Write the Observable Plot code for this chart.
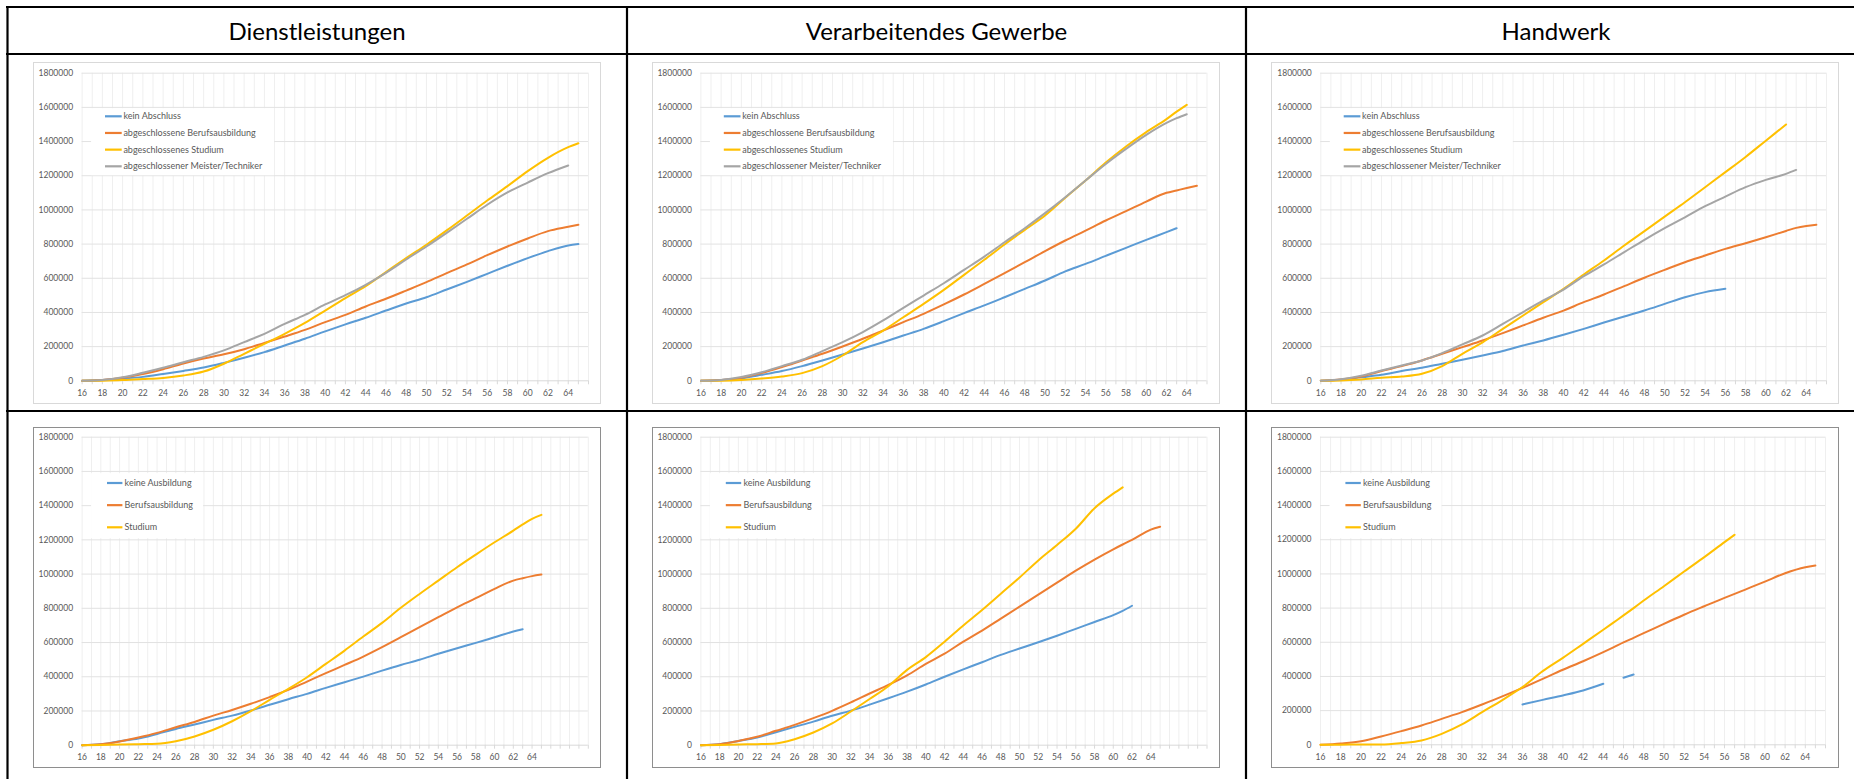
<!DOCTYPE html>
<html>
<head>
<meta charset="utf-8">
<script src="https://cdn.jsdelivr.net/npm/d3@7"></script>
<script src="https://cdn.jsdelivr.net/npm/@observablehq/plot@0.6"></script>
<style>
  html, body { margin: 0; padding: 0; background: #fff; width: 1854px; height: 779px; overflow: hidden; }
  #page { position: relative; width: 1854px; height: 779px; }
  #bg { position: absolute; left: 0; top: 0; }
  .chart { position: absolute; }
</style>
</head>
<body>
<div id="page"></div>
<script>
// ---------------- data (values in thousands) ----------------
const UNIT = 1000;
const yTicks = [0, 200000, 400000, 600000, 800000, 1000000, 1200000, 1400000, 1600000, 1800000];
const xTickLabels = [16,18,20,22,24,26,28,30,32,34,36,38,40,42,44,46,48,50,52,54,56,58,60,62,64];
const headers = ["Dienstleistungen", "Verarbeitendes Gewerbe", "Handwerk"];
const namesTop = ["kein Abschluss", "abgeschlossene Berufsausbildung", "abgeschlossenes Studium", "abgeschlossener Meister/Techniker"];
const namesBottom = ["keine Ausbildung", "Berufsausbildung", "Studium"];

// Dienstleistungen (top)
const tlAges = [16,18,20,22,24,26,28,30,32,34,36,38,40,42,44,46,48,50,52,54,56,58,60,62,64,65];
const tlKeinAbschluss   = [0,4,12,23,40,58,78,105,135,168, 207,246,289,330,369,411,452,489,534,579, 626,673,718,759,792,800];
const tlBerufsausbildung = [0,5,18,39,68,101,130,155,185,222, 259,298,343,386,435,480,528,577,630,681, 735,786,833,876,901,913];
const tlStudium         = [0,1,4,10,17,31,54,100,158,216, 275,339,411,484,554,636,718,796,880,967, 1055,1139,1227,1305,1367,1390];
const tlMeister         = [0,5,21,47,76,109,140,178,226,275, 333,386,447,501,562,632,710,786,866,948, 1030,1102,1160,1215,1260,null];

// Verarbeitendes Gewerbe (top)
const tmAges = [16,18,20,22,24,26,28,30,32,34,36,38,40,42,44,46,48,50,52,54,56,58,60,62,63,64,65];
const tmKeinAbschluss    = [0,4,15,35,57,86,119,154,189,226, 265,304,349,396,441,489,538,587,640,684, 731,778,825,870,893,null,null];
const tmBerufsausbildung = [0,4,18,45,80,119,158,201,246,294, 343,392,447,505,567,630,694,759,821,879, 938,993,1049,1100,1114,1128,1141];
const tmStudium          = [0,1,5,13,25,45,86,148,226,294, 372,450,532,620,708,798,883,967,1071,1172, 1277,1371,1455,1531,1575,1615,null];
const tmMeister          = [0,5,22,50,86,123,174,226,285,353, 427,499,571,649,727,811,893,981,1074,1172, 1269,1357,1439,1509,1537,1560,null];

// Handwerk (top)
const trAges = [16,18,20,22,24,26,28,30,32,34,36,38,40,42,44,46,48,50,52,54,56,58,60,62,63,64,65];
const trKeinAbschluss    = [0,6,20,35,57,76,100,123,148,174, 207,236,269,304,341,376,411,450,489,519, 538,null,null,null,null,null,null];
const trBerufsausbildung = [0,8,25,57,86,119,158,197,236,279, 324,369,411,460,505,554,603,649,694,733, 772,805,840,877,895,906,913];
const trStudium          = [0,2,8,18,25,41,86,158,225,304, 382,460,538,622,704,792,876,961,1045,1133, 1221,1310,1405,1500,null,null,null];
const trMeister          = [0,9,29,60,90,119,162,213,265,333, 402,470,534,612,681,753,825,893,957,1022, 1078,1133,1176,1211,1234,null,null];

// Dienstleistungen (bottom)
const blAges = [16,18,20,22,24,26,28,30,32,34,36,38,40,42,44,46,48,50,52,54,56,58,60,62,63,64,65];
const blKeineAusbildung = [0,5,23,39,66,95,121,148,173,203, 236,269,300,335,368,401,436,469,499,534, 567,598,631,664,678,null,null];
const blBerufsausbildung = [0,6,22,45,72,105,136,173,206,242, 281,323,372,421,469,518,573,631,690,748, 806,859,914,962,976,988,997];
const blStudium          = [0,1,4,6,8,23,51,90,140,199, 265,329,397,475,553,635,715,803,884,962, 1040,1114,1186,1254,1290,1323,1346];

// Verarbeitendes Gewerbe (bottom)
const bmAges = [16,18,20,22,24,26,28,30,32,34,36,38,40,42,44,46,48,50,52,54,56,58,60,61,62,64,65];
const bmKeineAusbildung  = [0,6,25,45,76,107,138,172,202,237, 274,313,355,400,443,485,528,565,602,640, 680,720,760,785,815,null,null];
const bmBerufsausbildung = [0,6,25,49,84,119,158,201,250,302, 352,408,475,535,605,670,740,810,880,950, 1020,1085,1145,1173,1200,1260,1277];
const bmStudium          = [0,1,4,6,10,35,74,127,197,270, 345,440,515,605,700,790,885,980,1080,1170, 1265,1385,1470,1507,null,null,null];

// Handwerk (bottom)
const brAges = [16,18,20,22,24,26,28,30,32,34,36,38,40,42,44,45,46,47,48,50,52,54,56,57,58,60,62,64,65];
const brKeineAusbildung  = [null,null,null,null,null,null,null,null,null,null, 236,263,289,318,357,null,392,411,null,null, null,null,null,null,null,null,null,null,null];
const brBerufsausbildung = [0,8,21,49,80,113,152,191,236,283, 333,386,439,489,542,570,599,626,653,708, 761,811,860,883,907,955,1004,1039,1049];
const brStudium          = [0,1,2,2,10,25,64,119,191,262, 338,431,509,591,673,715,757,800,844,928, 1014,1098,1186,1229,null,null,null,null,null];

// ---------------- styles / layout ----------------
const COLORS = { blue: "#5B9BD5", orange: "#ED7D31", yellow: "#FFC000", gray: "#A5A5A5" };
const topColors = [COLORS.blue, COLORS.orange, COLORS.yellow, COLORS.gray];
const bottomColors = [COLORS.blue, COLORS.orange, COLORS.yellow];

const panels = [
  { box: [33.5, 62.5, 600.5, 403.5], plot: [81.6, 588, 72.7, 380.3], xmax: 66, border: "#D9D9D9", ages: tlAges,
    series: [tlKeinAbschluss, tlBerufsausbildung, tlStudium, tlMeister], names: namesTop, colors: topColors, legend: "top" },
  { box: [652.5, 62.5, 1219.5, 403.5], plot: [700.4, 1206.5, 72.7, 380.3], xmax: 66, border: "#D9D9D9", ages: tmAges,
    series: [tmKeinAbschluss, tmBerufsausbildung, tmStudium, tmMeister], names: namesTop, colors: topColors, legend: "top" },
  { box: [1271.5, 62.5, 1838.5, 403.5], plot: [1320.3, 1826, 72.7, 380.3], xmax: 66, border: "#D9D9D9", ages: trAges,
    series: [trKeinAbschluss, trBerufsausbildung, trStudium, trMeister], names: namesTop, colors: topColors, legend: "top" },
  { box: [33.5, 427.5, 600.5, 767.5], plot: [81.6, 587.8, 436.7, 744.7], xmax: 70, border: "#8E8E8E", ages: blAges,
    series: [blKeineAusbildung, blBerufsausbildung, blStudium], names: namesBottom, colors: bottomColors, legend: "bottom" },
  { box: [652.5, 427.5, 1219.5, 767.5], plot: [700.4, 1206.5, 436.7, 744.7], xmax: 70, border: "#8E8E8E", ages: bmAges,
    series: [bmKeineAusbildung, bmBerufsausbildung, bmStudium], names: namesBottom, colors: bottomColors, legend: "bottom" },
  { box: [1271.5, 427.5, 1838.5, 767.5], plot: [1320, 1825, 436.7, 744.3], xmax: 66, border: "#8E8E8E", ages: brAges,
    series: [brKeineAusbildung, brBerufsausbildung, brStudium], names: namesBottom, colors: bottomColors, legend: "bottom" }
];

const legendStyles = {
  top:    { rect: [9.5, 35.5, 183, 67], row0: 43.6, step: 16.67, line: [23.4, 40.1], text: 41.8 },
  bottom: { rect: [9.5, 36.5, 112, 65], row0: 46.3, step: 22.15, line: [25.4, 40.8], text: 43.0 }
};

const page = document.getElementById("page");

// background: table lines, headers, chart boxes
const bg = d3.select(page).append("svg").attr("id", "bg").attr("width", 1854).attr("height", 779);
const lineStyle = (s) => s.attr("stroke", "#000").attr("stroke-width", 2.2);
lineStyle(bg.append("line").attr("x1", 6).attr("x2", 1854).attr("y1", 7).attr("y2", 7));
lineStyle(bg.append("line").attr("x1", 6).attr("x2", 1854).attr("y1", 54).attr("y2", 54));
lineStyle(bg.append("line").attr("x1", 6).attr("x2", 1854).attr("y1", 411).attr("y2", 411));
lineStyle(bg.append("line").attr("x1", 7.5).attr("x2", 7.5).attr("y1", 6).attr("y2", 779));
lineStyle(bg.append("line").attr("x1", 627).attr("x2", 627).attr("y1", 6).attr("y2", 779));
lineStyle(bg.append("line").attr("x1", 1246).attr("x2", 1246).attr("y1", 6).attr("y2", 779));
const headerCenters = [317, 936.5, 1556];
headers.forEach((h, i) => {
  bg.append("text").attr("x", headerCenters[i]).attr("y", 40).attr("text-anchor", "middle")
    .attr("font-family", "Lato").attr("font-size", 24).attr("fill", "#000").text(h);
});
panels.forEach(p => {
  const [l, t, r, b] = p.box;
  bg.append("rect").attr("x", l).attr("y", t).attr("width", r - l).attr("height", b - t)
    .attr("fill", "none").attr("stroke", p.border).attr("stroke-width", 1);
});

// charts
panels.forEach(p => {
  const [bl, bt, br, bb] = p.box;
  const X0 = Math.ceil(bl), Y0 = Math.ceil(bt);
  const W = Math.floor(br) - X0, H = Math.floor(bb) - Y0;
  const [pl, pr, pt, pb] = p.plot;
  const mL = pl - X0, mR = X0 + W - pr, mT = pt - Y0, mB = Y0 + H - pb;
  const allInts = d3.range(16, p.xmax + 1);

  const lineMarks = p.series.map((vals, i) =>
    Plot.line(p.ages.map((a, j) => ({ age: a, v: vals[j] == null ? null : vals[j] * UNIT })), {
      x: "age", y: "v", stroke: p.colors[i], strokeWidth: 2, curve: "monotone-x",
      strokeLinejoin: "round", strokeLinecap: "round"
    })
  );

  const svg = Plot.plot({
    width: W, height: H,
    marginLeft: mL, marginRight: mR, marginTop: mT, marginBottom: mB,
    style: { fontFamily: "Lato", fontSize: "8.5px", color: "#595959", background: "transparent", overflow: "visible" },
    x: { domain: [16, p.xmax], label: null },
    y: { domain: [0, 1800000], label: null },
    marks: [
      Plot.ruleX(allInts, { stroke: "#EFEFEF", strokeWidth: 1 }),
      Plot.ruleY(yTicks.slice(1), { stroke: "#E2E2E2", strokeWidth: 1 }),
      Plot.ruleY([0], { stroke: "#D9D9D9", strokeWidth: 1 }),
      Plot.axisX({ ticks: allInts, tickSize: 4, tickFormat: () => "", stroke: "#D9D9D9", label: null }),
      Plot.axisX({ ticks: xTickLabels, tickSize: 0, tickPadding: 9, tickFormat: d => String(d), label: null, fill: "#595959" }),
      Plot.axisY({ ticks: yTicks, tickSize: 0, tickPadding: 9, tickFormat: d => String(d), label: null, fill: "#595959" }),
      ...lineMarks
    ]
  });

  // legend (drawn on top, like Excel)
  const ls = legendStyles[p.legend];
  const g = d3.select(svg).append("g").attr("text-anchor", "start");
  g.append("rect").attr("x", mL + ls.rect[0]).attr("y", mT + ls.rect[1])
    .attr("width", ls.rect[2]).attr("height", ls.rect[3]).attr("fill", "#fff");
  p.names.forEach((n, i) => {
    const y = mT + ls.row0 + i * ls.step;
    g.append("line").attr("x1", mL + ls.line[0]).attr("x2", mL + ls.line[1]).attr("y1", y).attr("y2", y)
      .attr("stroke", p.colors[i]).attr("stroke-width", 2.2);
    g.append("text").attr("x", mL + ls.text).attr("y", y).attr("dy", "0.35em").attr("text-anchor", "start")
      .attr("font-family", "Lato").attr("font-size", 9).attr("fill", "#595959").text(n);
  });

  svg.classList.add("chart");
  svg.style.left = X0 + "px";
  svg.style.top = Y0 + "px";
  svg.style.width = W + "px";
  svg.style.height = H + "px";
  svg.style.maxWidth = "none";
  page.appendChild(svg);
});
</script>
</body>
</html>
